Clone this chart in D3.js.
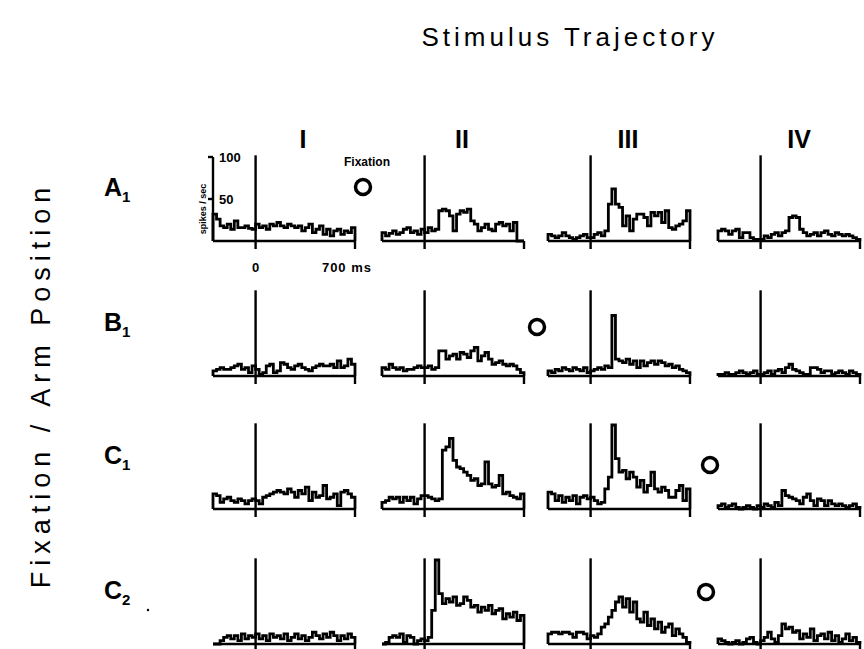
<!DOCTYPE html>
<html>
<head>
    <title>Stimulus Trajectory</title>
    <script src='https://d3js.org/d3.v7.min.js' charset='utf-8'></script>
    <style type="text/css">
        body { margin: 0; background: #fff; }
        svg text { font-family: "Liberation Sans", Arial, sans-serif; fill: #000; }
        .hist { fill: none; stroke: #000; stroke-width: 2.8; stroke-linejoin: miter; }
        .axis { stroke: #000; stroke-width: 2.4; fill: none; }
    </style>
</head>
<body>
<svg id="chart" width="864" height="649"></svg>
<script>
    // trajectories (columns) and fixation/arm positions (rows)
    var columns = ['I', 'II', 'III', 'IV'];
    var rows = [['A', '1'], ['B', '1'], ['C', '1'], ['C', '2']];

    // bins of 25 ms from -300 to 700 ms, spikes / sec
    var binStart = -300, binSize = 25;

    var rowA = [
        [32, 26, 18, 16, 20, 14, 24, 16, 16, 18, 15, 14, 20, 16, 18, 14, 20, 18, 22, 18, 16, 20, 18, 16, 18, 12, 16, 20, 10, 14, 18, 8, 14, 6, 12, 14, 8, 12, 10, 16],
        [10, 6, 9, 12, 8, 10, 14, 16, 10, 12, 8, 14, 10, 16, 12, 14, 36, 38, 36, 30, 12, 32, 36, 34, 38, 24, 20, 12, 16, 20, 14, 12, 20, 22, 18, 20, 12, 22, 0, 0],
        [8, 6, 4, 6, 10, 6, 4, 2, 4, 6, 8, 4, 4, 8, 10, 6, 12, 44, 62, 44, 40, 18, 30, 12, 26, 32, 32, 28, 18, 34, 30, 34, 22, 36, 16, 14, 18, 20, 24, 36],
        [12, 14, 12, 8, 12, 14, 4, 10, 10, 4, 2, 2, 2, 6, 4, 8, 10, 6, 10, 12, 28, 30, 28, 14, 10, 6, 8, 10, 6, 10, 12, 8, 6, 10, 8, 6, 8, 6, 4, 2]
    ];
    var rowB = [
        [6, 8, 10, 8, 8, 10, 12, 14, 8, 10, 4, 12, 8, 2, 4, 12, 14, 4, 6, 16, 14, 10, 8, 12, 14, 10, 8, 6, 10, 12, 14, 12, 12, 14, 10, 18, 10, 12, 20, 14],
        [10, 8, 14, 10, 8, 10, 6, 8, 8, 10, 12, 10, 10, 12, 8, 10, 30, 30, 20, 24, 26, 20, 28, 26, 22, 30, 34, 18, 24, 28, 20, 14, 16, 18, 14, 12, 14, 12, 8, 4],
        [6, 4, 8, 6, 10, 8, 6, 10, 8, 6, 10, 4, 6, 8, 10, 8, 12, 10, 72, 20, 18, 16, 20, 14, 18, 10, 18, 12, 16, 18, 14, 18, 16, 12, 14, 10, 12, 8, 6, 4],
        [2, 2, 4, 2, 2, 4, 6, 4, 2, 4, 6, 2, 2, 4, 6, 2, 6, 8, 4, 10, 14, 8, 6, 4, 2, 2, 10, 10, 8, 4, 6, 6, 2, 4, 6, 4, 2, 6, 4, 2]
    ];
    var rowC1 = [
        [18, 16, 8, 12, 14, 10, 8, 12, 10, 6, 10, 12, 10, 6, 14, 16, 18, 20, 22, 20, 18, 24, 20, 14, 22, 18, 26, 10, 20, 14, 16, 28, 12, 14, 18, 4, 20, 22, 18, 14],
        [8, 10, 14, 12, 14, 8, 14, 10, 14, 6, 12, 16, 16, 14, 12, 10, 12, 70, 74, 84, 58, 50, 48, 44, 40, 34, 36, 28, 30, 56, 30, 26, 28, 40, 18, 20, 16, 14, 12, 18],
        [20, 18, 10, 16, 8, 14, 10, 16, 6, 14, 16, 12, 14, 10, 6, 8, 24, 38, 100, 60, 44, 46, 36, 44, 38, 26, 34, 20, 28, 44, 24, 20, 26, 22, 14, 14, 22, 28, 10, 24],
        [4, 6, 2, 4, 6, 2, 0, 2, 4, 2, 0, 4, 2, 6, 4, 2, 8, 4, 22, 16, 14, 12, 10, 6, 14, 18, 10, 4, 12, 10, 4, 10, 6, 4, 6, 4, 2, 4, 6, 2]
    ];
    var rowC2 = [
        [0, 0, 4, 8, 10, 6, 10, 4, 12, 6, 10, 8, 12, 6, 10, 4, 12, 8, 10, 6, 12, 4, 8, 12, 6, 10, 4, 8, 14, 10, 6, 12, 8, 14, 10, 4, 10, 6, 12, 8],
        [0, 2, 8, 10, 8, 12, 2, 10, 8, 0, 4, 6, 4, 8, 40, 100, 60, 48, 54, 50, 56, 46, 48, 56, 52, 44, 46, 38, 44, 40, 46, 36, 40, 42, 30, 36, 32, 38, 28, 34],
        [12, 14, 14, 12, 14, 14, 12, 8, 14, 14, 12, 6, 10, 8, 12, 20, 24, 32, 40, 50, 56, 44, 54, 38, 50, 30, 26, 38, 22, 30, 18, 26, 14, 20, 24, 10, 18, 12, 8, 2],
        [6, 4, 2, 0, 2, 4, 0, 2, 6, 8, 2, 0, 4, 8, 14, 6, 2, 10, 24, 18, 20, 14, 16, 6, 12, 8, 18, 4, 10, 12, 6, 14, 4, 10, 2, 6, 12, 4, 8, 2]
    ];
    var histograms = [rowA, rowB, rowC1, rowC2];

    var yTicks = [50, 100];

    var panelLeft = [213, 382, 548, 718];
    var panelBase = [241, 376, 509, 644];
    var columnLabelX = [303, 462, 628, 799];
    var panelWidth = 142;
    var panelHeight = 84;

    var x = d3.scaleLinear().domain([-300, 700]).range([0, panelWidth]);
    var y = d3.scaleLinear().domain([0, 100]).range([0, -panelHeight]);

    var line = d3.line()
        .x(function (d) { return x(d.t); })
        .y(function (d) { return y(d.v); });

    function steps(values) {
        var pts = [{ t: binStart, v: 0 }];
        values.forEach(function (v, i) {
            var t = binStart + i * binSize;
            pts.push({ t: t, v: v });
            pts.push({ t: t + binSize, v: v });
        });
        pts.push({ t: binStart + values.length * binSize, v: 0 });
        return pts;
    }

    var svg = d3.select('#chart');

    // titles
    svg.append('text')
        .attr('x', 570).attr('y', 46)
        .attr('text-anchor', 'middle')
        .style('font-size', '26px')
        .style('letter-spacing', '4px')
        .text('Stimulus Trajectory');

    svg.append('text')
        .attr('transform', 'translate(50, 385) rotate(-90)')
        .attr('text-anchor', 'middle')
        .style('font-size', '27px')
        .style('letter-spacing', '6px')
        .text('Fixation / Arm Position');

    columns.forEach(function (c, j) {
        svg.append('text')
            .attr('x', columnLabelX[j]).attr('y', 148)
            .attr('text-anchor', 'middle')
            .style('font-size', '25px').style('font-weight', 'bold')
            .text(c);
    });

    rows.forEach(function (r, i) {
        var t = svg.append('text')
            .attr('x', 104).attr('y', panelBase[i] - 45)
            .style('font-size', '25px').style('font-weight', 'bold');
        t.append('tspan').text(r[0]);
        t.append('tspan').attr('dy', 6).style('font-size', '15px').text(r[1]);
    });

    // panels
    histograms.forEach(function (rowData, i) {
        rowData.forEach(function (values, j) {
            var g = svg.append('g')
                .attr('transform', 'translate(' + panelLeft[j] + ',' + panelBase[i] + ')');

            g.append('path')
                .attr('class', 'hist')
                .attr('d', line(steps(values)));

            // time axis with ticks at 0 and 700 ms
            g.append('line').attr('class', 'axis')
                .attr('x1', x(-300)).attr('x2', x(700))
                .attr('y1', 0).attr('y2', 0);
            g.append('line').attr('class', 'axis')
                .attr('x1', x(0)).attr('x2', x(0))
                .attr('y1', 8).attr('y2', y(102));
            g.append('line').attr('class', 'axis')
                .attr('x1', x(700)).attr('x2', x(700))
                .attr('y1', 8).attr('y2', 0);

            if (i === 0 && j === 0) {
                g.append('line').attr('class', 'axis')
                    .attr('x1', x(-300)).attr('x2', x(-300))
                    .attr('y1', 0).attr('y2', y(100));
                yTicks.forEach(function (tk) {
                    g.append('line').attr('class', 'axis')
                        .attr('x1', x(-300) - 5).attr('x2', x(-300))
                        .attr('y1', y(tk)).attr('y2', y(tk));
                    g.append('text')
                        .attr('x', x(-300) + 6).attr('y', y(tk) + 5)
                        .style('font-size', '13px').style('font-weight', 'bold')
                        .text(tk);
                });
                g.append('text')
                    .attr('transform', 'translate(' + (x(-300) - 7) + ',' + y(38) + ') rotate(-90)')
                    .attr('text-anchor', 'middle')
                    .style('font-size', '9px').style('font-weight', 'bold')
                    .text('spikes / sec');
                g.append('text')
                    .attr('x', x(0)).attr('y', 31)
                    .attr('text-anchor', 'middle')
                    .style('font-size', '13px').style('font-weight', 'bold')
                    .text('0');
                g.append('text')
                    .attr('x', x(700) + 17).attr('y', 31)
                    .attr('text-anchor', 'end')
                    .style('font-size', '13px').style('font-weight', 'bold')
                    .style('letter-spacing', '1px')
                    .text('700 ms');
            }
        });
    });

    // fixation circles
    var circlePos = [[363, 187], [537, 327], [710, 465], [706, 592]];
    circlePos.forEach(function (p) {
        svg.append('circle')
            .attr('cx', p[0]).attr('cy', p[1])
            .attr('r', 7.5)
            .attr('fill', 'none').attr('stroke', '#000').attr('stroke-width', 3.5);
    });
    svg.append('text')
        .attr('x', 367).attr('y', 166)
        .attr('text-anchor', 'middle')
        .style('font-size', '12px').style('font-weight', 'bold')
        .text('Fixation');

    svg.append('circle').attr('cx', 148).attr('cy', 610).attr('r', 1.2).attr('fill', '#000');
</script>
</body>
</html>
